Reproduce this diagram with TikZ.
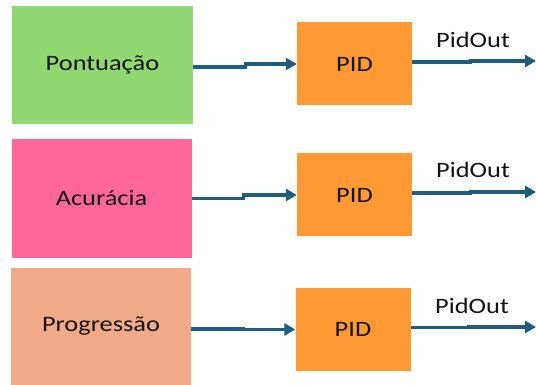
\documentclass[tikz,border=0pt]{standalone}
\usepackage{fontspec}
\newfontfamily\cf[FakeStretch=1.2]{Carlito}
\usetikzlibrary{arrows.meta}
\definecolor{cgreen}{RGB}{146,216,114}
\definecolor{cpink}{RGB}{255,102,153}
\definecolor{csalmon}{RGB}{241,170,135}
\definecolor{corange}{RGB}{255,153,51}
\definecolor{carrow}{RGB}{31,92,130}
\definecolor{ctext}{RGB}{20,20,20}
\tikzset{
  srcbox/.style={rectangle, inner sep=0pt, minimum width=181pt, minimum height=118pt, text=ctext, font=\cf\fontsize{22}{26}\selectfont},
  pidbox/.style={rectangle, fill=corange, inner sep=0pt, minimum width=115pt, minimum height=83pt, text=ctext, font=\cf\fontsize{22}{26}\selectfont},
  conn/.style={draw=carrow, line width=3.4pt, -{Triangle[length=11pt,width=12pt]}},
  outlbl/.style={inner sep=0pt, text=ctext, font=\cf\fontsize{22}{26}\selectfont}
}
\begin{document}
\begin{tikzpicture}[x=1pt,y=-1pt]
\useasboundingbox (0,0) rectangle (536,385);
\fill[white] (0,0) rectangle (536,385);
% row 1
\node[srcbox, fill=cgreen, minimum width=181pt, minimum height=118pt] (s1) at (102.5,65) {Pontuação};
\node[pidbox] (p1) at (354.5,64) {PID};
\coordinate (o1) at (536,61);
\draw[conn] ([yshift=-2pt]s1.east) -- ++(52,0) |- (p1.west);
\draw[conn] ([yshift=2pt]p1.east) -- ++(58,0) |- (o1);
\node[outlbl] (l1) at (473,40) {PidOut};
% row 2
\node[srcbox, fill=cpink, minimum width=180pt, minimum height=119pt] (s2) at (101.5,198.5) {Acurácia};
\node[pidbox] (p2) at (354.5,195) {PID};
\coordinate (o2) at (536,192);
\draw[conn] (s2.east) -- ++(52,0) |- (p2.west);
\draw[conn] ([yshift=2pt]p2.east) -- ++(58,0) |- (o2);
\node[outlbl] (l2) at (473,170) {PidOut};
% row 3
\node[srcbox, fill=csalmon, minimum width=180pt, minimum height=117pt] (s3) at (101,326.5) {Progressão};
\node[pidbox] (p3) at (353,329.5) {PID};
\coordinate (o3) at (536,327);
\draw[conn] ([yshift=-2.5pt]s3.east) -- ++(52,0) |- (p3.west);
\draw[conn] ([yshift=2pt]p3.east) -- ++(58,0) |- (o3);
\node[outlbl] (l3) at (472,306) {PidOut};
\end{tikzpicture}
\end{document}
